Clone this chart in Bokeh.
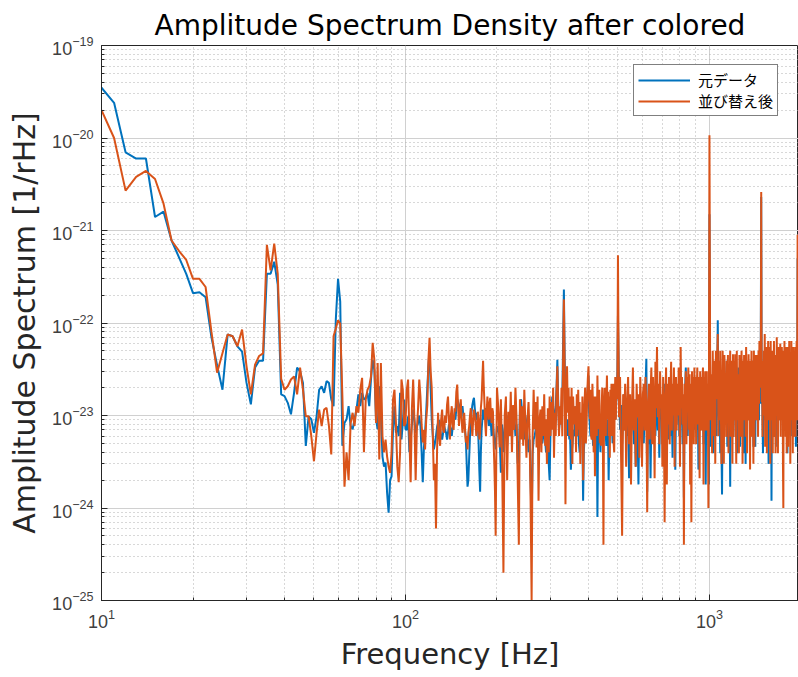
import numpy as np
from bokeh.plotting import figure
from bokeh.models import Range1d, FixedTicker
from bokeh.embed import file_html
from bokeh.resources import INLINE

# ---------------- data ----------------
# frequency bins [Hz]
freq_low = np.arange(10, 101, 1)      # 10..100
freq_a = np.arange(101, 201, 1)       # 101..200
freq_b = np.arange(202, 501, 2)       # 202..500
freq_c = np.arange(504, 1001, 4)      # 504..1000
freq_d = np.arange(1005, 2001, 5)     # 1005..2000

# 10..100 Hz, amplitude in 1/rHz
orig_low = [3.5e-20, 2.4e-20, 7e-21, 6e-21, 6e-21, 1.4e-21, 1.6e-21, 7.8e-22, 5.1e-22, 3.4e-22,
            2.1e-22, 2.15e-22, 1.9e-22, 7e-23, 3.5e-23, 1.9e-23, 7.5e-23, 7.2e-23, 5.6e-23, 4.9e-23,
            2.25e-23, 1.32e-23, 3.3e-23, 3.9e-23, 3.9e-23, 3.4e-22, 3.4e-22, 4.6e-22, 2.6e-22, 1.69e-23,
            1.62e-23, 1.37e-23, 1.03e-23, 1.76e-23, 3.3e-23, 3.0e-23, 2.25e-23, 4.7e-24, 9.8e-24, 9.1e-24,
            6.5e-24, 9.8e-24, 1.9e-23, 2.07e-23, 1.76e-23, 2.35e-23, 2.25e-23, 1.49e-23, 1.26e-23, 1.1e-22,
            3.0e-22, 1.7e-22, 4.7e-24, 8.3e-24, 9.1e-24, 1.26e-23, 7.7e-24, 7.1e-24, 9.1e-24, 1.16e-23,
            1.69e-23, 1.26e-23, 1.76e-23, 1.49e-23, 1.55e-23, 1.76e-23, 1.26e-23, 2.45e-23, 4.0e-23, 3.1e-23,
            9.1e-24, 7.1e-24, 2.07e-23, 1.07e-23, 3.6e-24, 2.8e-24, 3.1e-24, 1.46e-24, 8.9e-25, 2.0e-24,
            2.2e-24, 7.1e-24, 1.26e-23, 6.5e-24, 7.7e-24, 6.0e-24, 1.76e-23, 5.5e-24, 8.3e-24, 1.49e-23,
            7.1e-24]
sort_low = [2.0e-20, 1.0e-20, 2.7e-21, 3.8e-21, 4.4e-21, 3.6e-21, 1.95e-21, 7.8e-22, 6e-22, 4.8e-22,
            3.0e-22, 3.0e-22, 2.45e-22, 8e-23, 2.9e-23, 4.7e-23, 7.5e-23, 7.2e-23, 5.6e-23, 8.5e-23,
            3.4e-23, 1.69e-23, 3.55e-23, 4.4e-23, 4.7e-23, 7e-22, 3.7e-22, 7.2e-22, 3.4e-22, 2.5e-23,
            1.9e-23, 2.07e-23, 2.45e-23, 2.65e-23, 1.69e-23, 3.3e-23, 1.9e-23, 9.8e-24, 9.8e-24, 6.0e-24,
            3.2e-24, 6.5e-24, 1.16e-23, 7.7e-24, 1.16e-23, 1.21e-23, 7.7e-24, 3.8e-24, 7.2e-23, 8.7e-23,
            1.07e-22, 9.8e-23, 1.62e-23, 1.7e-24, 4.0e-24, 2.0e-24, 8.3e-24, 1.07e-23, 7.7e-24, 1.26e-23,
            1.07e-23, 1.9e-23, 2.55e-23, 4.0e-24, 1.49e-23, 1.9e-23, 2.07e-23, 2.65e-23, 6.1e-23, 4.0e-23,
            8.3e-24, 3.7e-23, 3.35e-24, 3.7e-23, 6.0e-24, 4.0e-24, 5.5e-24, 3.6e-24, 2.8e-24, 2.4e-24,
            4.0e-24, 1.49e-23, 1.9e-23, 8.3e-24, 2.8e-24, 1.9e-24, 4.0e-24, 2.45e-23, 1.9e-23, 7.7e-24,
            8.3e-24]

# above 100 Hz, amplitude in units of 1e-25 /rHz
UNIT = 1e-25
orig_a_e25 = [70, 98, 40, 55, 80, 116, 90, 65, 75, 83,
              100, 77, 40, 19, 45, 65, 110, 200, 350, 500,
              200, 90, 60, 43, 50, 60, 75, 83, 90, 70,
              60, 55, 65, 77, 70, 65, 55, 65, 80, 77,
              70, 60, 75, 83, 100, 90, 120, 150, 140, 130,
              120, 116, 110, 126, 100, 83, 70, 55, 30, 17,
              20, 35, 60, 83, 110, 130, 145, 155, 120, 100,
              90, 107, 80, 50, 25, 15, 40, 70, 90, 116,
              100, 90, 105, 120, 110, 100, 90, 77, 85, 98,
              80, 60, 70, 83, 65, 55, 50, 43, 60, 77]
sort_a_e25 = [190, 245, 60, 19, 120, 245, 90, 20, 70, 120,
              245, 160, 80, 51, 70, 43, 90, 130, 400, 690,
              300, 200, 60, 20, 30, 6, 40, 107, 60, 47,
              90, 116, 70, 65, 100, 83, 130, 160, 90, 55,
              100, 126, 80, 70, 120, 110, 180, 216, 120, 77,
              110, 150, 90, 65, 80, 107, 70, 51, 60, 43,
              65, 77, 100, 120, 80, 60, 90, 116, 100, 83,
              60, 70, 110, 90, 55, 65, 120, 150, 250, 390,
              200, 130, 80, 60, 110, 160, 120, 90, 130, 155,
              100, 83, 120, 110, 50, 30, 15, 5, 40, 200]

orig_b_e25 = [70, 60, 24, 80, 40, 71, 90, 47, 100, 91,
              116, 60, 126, 100, 60, 80, 30, 40, 110, 150,
              107, 80, 55, 100, 80, 60, 40, 55, 20, 7,
              40, 55, 60, 70, 80, 60, 55, 71, 60, 80,
              50, 60, 65, 55, 40, 65, 50, 30, 20, 71,
              100, 160, 120, 91, 100, 126, 200, 400, 140, 71,
              90, 107, 80, 150, 600, 2300, 400, 107, 80, 60,
              91, 70, 55, 60, 26, 40, 47, 60, 70, 60,
              126, 90, 71, 60, 91, 50, 40, 80, 60, 70,
              55, 12, 40, 55, 91, 100, 126, 150, 200, 270,
              107, 80, 60, 100, 140, 80, 47, 60, 91, 47,
              60, 91, 80, 8, 60, 100, 107, 60, 40, 80,
              60, 50, 70, 80, 126, 100, 71, 60, 47, 80,
              91, 60, 20, 50, 107, 100, 60, 140, 80, 50,
              60, 80, 126, 100, 90, 110, 150, 200, 300, 1200]
sort_b_e25 = [120, 45, 150, 30, 2, 100, 160, 20, 110, 60,
              180, 40, 130, 70, 200, 90, 20, 4, 150, 55,
              126, 47, 190, 80, 35, 91, 140, 60, 12, 1,
              60, 190, 71, 140, 45, 160, 12, 90, 116, 40,
              126, 60, 170, 47, 91, 30, 120, 40, 160, 60,
              140, 70, 200, 35, 107, 60, 180, 340, 120, 60,
              126, 80, 200, 60, 400, 1800, 300, 11, 150, 340,
              107, 200, 60, 160, 55, 200, 30, 160, 90, 80,
              126, 40, 170, 60, 190, 70, 140, 30, 107, 60,
              160, 20, 47, 130, 200, 50, 71, 160, 250, 340,
              150, 91, 190, 60, 55, 220, 126, 40, 160, 22,
              130, 160, 60, 270, 100, 71, 190, 50, 80, 47,
              126, 200, 60, 4, 120, 200, 70, 60, 150, 270,
              91, 180, 60, 160, 35, 190, 80, 220, 60, 80,
              220, 50, 40, 150, 260, 90, 200, 150, 260, 5400]

orig_c_e25 = [200, 70, 130, 49, 100, 170, 69, 120, 60, 80,
              21, 134, 60, 100, 170, 49, 96, 28, 110, 69,
              18, 120, 80, 134, 60, 100, 50, 120, 200, 410,
              15, 96, 49, 120, 21, 100, 69, 150, 80, 134,
              60, 130, 260, 69, 110, 35, 120, 96, 150, 49,
              100, 220, 69, 120, 28, 96, 134, 55, 120, 69,
              200, 60, 110, 35, 150, 96, 134, 26, 120, 80,
              170, 100, 134, 60, 120, 80, 170, 100, 49, 150,
              13, 110, 200, 330, 96, 150, 60, 120, 220, 80,
              134, 100, 49, 170, 110, 60, 150, 200, 70, 120,
              150, 200, 70, 120, 26, 100, 170, 69, 134, 220,
              80, 150, 120, 49, 170, 260, 100, 18, 134, 96,
              150, 60, 120, 18, 15000]
sort_c_e25 = [96, 260, 35, 5, 170, 69, 220, 28, 134, 260,
              49, 170, 18, 120, 330, 69, 150, 28, 220, 96,
              170, 35, 260, 120, 28, 170, 220, 69, 260, 120,
              9, 134, 220, 55, 170, 330, 49, 260, 120, 21,
              380, 120, 550, 96, 220, 49, 300, 120, 170, 28,
              260, 100, 7, 150, 330, 18, 220, 80, 260, 49,
              170, 380, 69, 220, 100, 330, 28, 150, 260, 69,
              220, 100, 330, 150, 28, 550, 120, 260, 80, 170,
              4, 220, 120, 300, 49, 260, 134, 330, 70, 280,
              18, 220, 7, 300, 120, 260, 49, 330, 100, 260,
              49, 170, 330, 80, 260, 134, 21, 300, 100, 260,
              69, 220, 330, 18, 260, 120, 300, 69, 220, 300,
              69, 220, 10, 150, 107000]

orig_d_e25 = [134, 46, 200, 89, 100, 39, 200, 160, 280, 100,
              60, 200, 1070, 134, 89, 200, 39, 160, 46, 14,
              160, 89, 59, 280, 134, 89, 200, 390, 46, 134,
              200, 46, 134, 17, 200, 280, 89, 160, 59, 220,
              89, 280, 134, 59, 200, 160, 39, 200, 330, 100,
              200, 46, 134, 280, 89, 160, 200, 134, 39, 280,
              390, 100, 30, 160, 220, 134, 89, 200, 160, 89,
              280, 134, 59, 160, 200, 89, 390, 160, 46, 100,
              200, 134, 46, 280, 160, 134, 200, 89, 330, 200,
              89, 500, 200, 134, 500, 23000, 160, 200, 89, 39,
              280, 160, 134, 450, 89, 200, 100, 390, 160, 220,
              390, 89, 30, 200, 160, 134, 280, 200, 160, 12,
              280, 160, 100, 390, 200, 59, 160, 220, 134, 200,
              134, 200, 450, 46, 200, 160, 100, 280, 200, 160,
              89, 200, 390, 134, 160, 220, 100, 160, 59, 200,
              330, 160, 450, 89, 200, 134, 160, 280, 100, 280,
              39, 200, 134, 160, 89, 390, 160, 200, 134, 60,
              280, 160, 220, 134, 450, 59, 200, 160, 89, 220,
              134, 200, 390, 160, 46, 200, 280, 134, 200, 5000,
              200, 160, 89, 330, 160, 134, 200, 89, 160, 280]
sort_d_e25 = [390, 89, 280, 39, 500, 134, 60, 390, 30, 500,
              150, 390, 760, 60, 390, 89, 500, 134, 30, 89,
              500, 200, 30, 450, 134, 280, 59, 390, 89, 450,
              39, 330, 200, 500, 59, 390, 160, 30, 460, 59,
              390, 89, 460, 160, 30, 500, 89, 280, 200, 39,
              450, 134, 330, 59, 500, 200, 30, 390, 89, 450,
              134, 330, 59, 550, 200, 39, 390, 160, 460, 89,
              390, 26, 330, 134, 500, 59, 390, 200, 30, 500,
              46, 390, 160, 450, 89, 330, 200, 450, 59, 500,
              134, 640, 280, 390, 200, 26000, 140, 390, 59, 390,
              100, 500, 200, 760, 46, 390, 134, 550, 39, 450,
              280, 640, 89, 450, 200, 550, 30, 640, 89, 450,
              200, 500, 39, 390, 160, 640, 59, 450, 200, 39,
              330, 160, 700, 100, 450, 39, 550, 200, 89, 450,
              280, 600, 59, 390, 160, 550, 89, 450, 30, 10,
              500, 200, 640, 89, 450, 59, 550, 280, 39, 450,
              280, 550, 46, 390, 160, 640, 89, 450, 30, 390,
              160, 640, 89, 500, 280, 39, 550, 200, 450, 59,
              390, 134, 550, 59, 390, 200, 640, 89, 500, 9000,
              330, 100, 450, 60, 390, 160, 550, 59, 450, 390]

series_labels = ["元データ", "並び替え後"]
x_major = [10, 100, 1000]
y_major = [1e-25, 1e-24, 1e-23, 1e-22, 1e-21, 1e-20, 1e-19]

for f, o, s in [(freq_low, orig_low, sort_low), (freq_a, orig_a_e25, sort_a_e25),
                (freq_b, orig_b_e25, sort_b_e25), (freq_c, orig_c_e25, sort_c_e25),
                (freq_d, orig_d_e25, sort_d_e25)]:
    assert len(f) == len(o) == len(s), (len(f), len(o), len(s))

freq = np.concatenate([freq_low, freq_a, freq_b, freq_c, freq_d])
orig = np.concatenate([np.array(orig_low),
                       np.array(orig_a_e25 + orig_b_e25 + orig_c_e25 + orig_d_e25) * UNIT])
srt = np.concatenate([np.array(sort_low),
                      np.array(sort_a_e25 + sort_b_e25 + sort_c_e25 + sort_d_e25) * UNIT])

# ---------------- figure ----------------
FONT = "DejaVu Sans"
JFONT = "Noto Sans CJK JP"
BLUE = "#0072BD"
ORANGE = "#D95319"
AX = "#262626"

p = figure(width=798, height=677, x_axis_type="log", y_axis_type="log",
           x_range=Range1d(10, 1963), y_range=Range1d(1e-25, 1e-19),
           output_backend="svg", toolbar_location=None,
           min_border_left=101, min_border_right=0, min_border_top=45, min_border_bottom=77,
           title="Amplitude Spectrum Density after colored")
p.background_fill_color = "white"
p.border_fill_color = "white"
p.outline_line_color = AX
p.outline_line_width = 1

p.title.text_font = FONT
p.title.text_font_size = "28px"
p.title.text_font_style = "normal"
p.title.text_color = "#000000"
p.title.align = "center"
p.title.standoff = 8

x_minor = [m * d for d in (10, 100, 1000) for m in range(2, 10) if m * d <= 2000]
y_minor = [m * 10.0 ** e for e in range(-25, -19) for m in range(2, 10)]
p.xaxis.ticker = FixedTicker(ticks=x_major, minor_ticks=x_minor)
p.yaxis.ticker = FixedTicker(ticks=y_major, minor_ticks=y_minor)

for ax in (p.xaxis[0], p.yaxis[0]):
    ax.axis_line_color = AX
    ax.major_tick_line_color = AX
    ax.minor_tick_line_color = AX
    ax.major_tick_in = 6
    ax.major_tick_out = 0
    ax.minor_tick_in = 3
    ax.minor_tick_out = 0
    ax.major_label_text_font = "Liberation Sans"
    ax.major_label_text_font_size = "18px"
    ax.major_label_text_color = "#404040"
    ax.axis_label_text_font = FONT
    ax.axis_label_text_font_style = "normal"
    ax.axis_label_text_color = AX

p.xaxis.axis_label_text_font_size = "29px"
p.yaxis.axis_label_text_font_size = "30px"
p.xaxis.axis_label = "Frequency [Hz]"
p.yaxis.axis_label = "Amplitude Spectrum [1/rHz]"
p.xaxis.major_label_standoff = 8
p.yaxis.major_label_standoff = 8
p.xaxis.axis_label_standoff = 6
p.yaxis.axis_label_standoff = 7

for g in (p.xgrid[0], p.ygrid[0]):
    g.grid_line_color = "#d0d0d0"
    g.grid_line_width = 1
    g.minor_grid_line_color = "#b0b0b0"
    g.minor_grid_line_dash = "1 3"
    g.minor_grid_line_width = 1

p.line(freq, orig, line_color=BLUE, line_width=2, legend_label=series_labels[0])
p.line(freq, srt, line_color=ORANGE, line_width=2, legend_label=series_labels[1])

lg = p.legend[0]
lg.location = (532, 484)
lg.label_text_font = JFONT
lg.label_text_font_size = "15px"
lg.label_text_color = "#000000"
lg.glyph_width = 52
lg.glyph_height = 18
lg.label_height = 18
lg.label_standoff = 8
lg.spacing = 0
lg.padding = 4
lg.margin = 0
lg.border_line_color = "#000000"
lg.border_line_width = 1
lg.background_fill_color = "white"
lg.background_fill_alpha = 1.0

open("out.html", "w").write(file_html(p, INLINE))
